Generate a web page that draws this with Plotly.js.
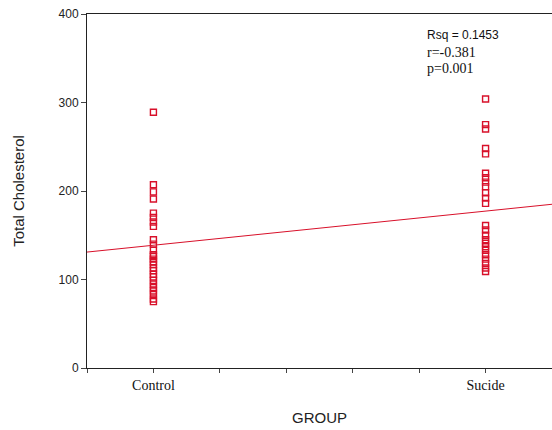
<!DOCTYPE html>
<html>
<head>
<meta charset="utf-8">
<script src="https://cdn.plot.ly/plotly-3.0.1.min.js"></script>
<style>html,body{margin:0;padding:0;background:#fff;}#chart{width:552px;height:430px;}</style>
</head>
<body>
<div id="chart"></div>
<script>
const groupCodes = [1, 2];
const groupLabels = ["Control", "Sucide"];
const controlValues = [289, 207, 199, 191, 175, 170, 165, 160, 145, 140, 133, 128, 126, 123, 120, 117, 113, 110, 106, 103, 99, 95, 91, 87, 83, 78, 75];
const suicideValues = [304, 275, 270, 248, 242, 220, 215, 210, 205, 198, 192, 186, 161, 156, 150, 145, 141, 137, 133, 128, 123, 118, 113, 109];
const fitX = [0.8, 2.2];
const fitY = [131, 185];
const statLines = ["Rsq = 0.1453", "r=-0.381", "p=0.001"];
const xTickVals = [0.8, 1.0, 1.2, 1.4, 1.6, 1.8, 2.0, 2.2];

const red = "#d8102a";
const xs = controlValues.map(() => groupCodes[0]).concat(suicideValues.map(() => groupCodes[1]));
const ys = controlValues.concat(suicideValues);

const tickText = xTickVals.map(v => {
  const i = groupCodes.findIndex(g => Math.abs(g - v) < 1e-9);
  return i >= 0 ? groupLabels[i] : "";
});

const traces = [
  {
    x: fitX, y: fitY, type: "scatter", mode: "lines",
    line: {color: red, width: 1}, hoverinfo: "skip"
  },
  {
    x: xs, y: ys, type: "scatter", mode: "markers",
    marker: {symbol: "square-open", size: 6, color: red, line: {width: 1.4, color: red}}
  }
];

const annFonts = [
  {family: "Liberation Sans, Arial, sans-serif", size: 12, color: "#111"},
  {family: "Liberation Serif, Times New Roman, serif", size: 14, color: "#111"},
  {family: "Liberation Serif, Times New Roman, serif", size: 14, color: "#111"}
];
const annY = [376, 357, 338];
const annotations = statLines.map((t, i) => ({
  text: t, xref: "paper", yref: "y", x: 0.727, y: annY[i],
  xanchor: "left", yanchor: "middle", showarrow: false, font: annFonts[i]
}));

const layout = {
  width: 552, height: 430,
  margin: {l: 87, r: 0, t: 14, b: 62},
  paper_bgcolor: "#fff", plot_bgcolor: "#fff",
  showlegend: false,
  xaxis: {
    range: [0.8, 2.2], tickmode: "array", tickvals: xTickVals, ticktext: tickText,
    ticks: "outside", ticklen: 4, tickcolor: "#444", tickwidth: 1,
    showline: true, linecolor: "#222", linewidth: 1, mirror: true,
    showgrid: false, zeroline: false,
    tickfont: {family: "Liberation Serif, Times New Roman, serif", size: 14, color: "#111"},
    title: {text: "GROUP", font: {family: "Liberation Sans, Arial, sans-serif", size: 15, color: "#222"}, standoff: 20}
  },
  yaxis: {
    range: [0, 400], tickmode: "array", tickvals: [0, 100, 200, 300, 400],
    ticks: "outside", ticklen: 5, tickcolor: "#444", tickwidth: 1,
    showline: true, linecolor: "#222", linewidth: 1,
    showgrid: false, zeroline: false,
    tickfont: {family: "Liberation Sans, Arial, sans-serif", size: 12, color: "#222"},
    title: {text: "Total Cholesterol", font: {family: "Liberation Sans, Arial, sans-serif", size: 15, color: "#222"}, standoff: 30}
  },
  annotations: annotations
};

Plotly.newPlot("chart", traces, layout, {displayModeBar: false, staticPlot: true});
</script>
</body>
</html>
